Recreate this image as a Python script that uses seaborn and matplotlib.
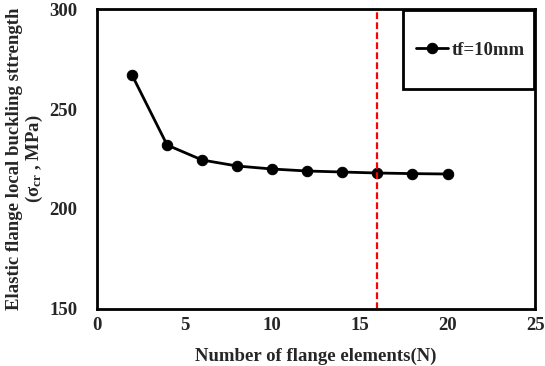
import matplotlib
matplotlib.use("Agg")
import matplotlib.pyplot as plt
from matplotlib.patches import Rectangle
import seaborn as sns
import pandas as pd

# data
n_elements = [2, 4, 6, 8, 10, 12, 14, 16, 18, 20]
strength = [267.0, 232.0, 224.5, 221.5, 220.0, 219.0, 218.5, 218.0, 217.7, 217.5]
series_label = "tf=10mm"
x_ticks = [0, 5, 10, 15, 20, 25]
y_ticks = [150, 200, 250, 300]
red_line_x = 16

sns.set_style("white")
plt.rcParams['font.family'] = ['Liberation Serif', 'DejaVu Serif']
plt.rcParams['font.weight'] = 'bold'
plt.rcParams['mathtext.fontset'] = 'custom'
plt.rcParams['mathtext.rm'] = 'Liberation Serif:bold'
plt.rcParams['mathtext.it'] = 'Liberation Serif:bold'

df = pd.DataFrame({'N': n_elements, 'sigma': strength})

fig = plt.figure(figsize=(5.45, 3.66), dpi=100)
ax = fig.add_axes([0.178, 0.156, 0.804, 0.819])

sns.lineplot(data=df, x='N', y='sigma', ax=ax, color='black', marker='o',
             markersize=7.5, linewidth=2, markeredgecolor='black', label=series_label)
ax.axvline(red_line_x, color='red', linestyle='--', linewidth=1.6, dashes=(3, 1.5))

fs = 13.5
ax.set_xlim(0, 25)
ax.set_ylim(150, 300)
ax.set_xticks(x_ticks)
ax.set_yticks(y_ticks)
ax.tick_params(direction='in', length=5, width=1.5, labelsize=fs)
ax.tick_params(axis='y', pad=14)
ax.tick_params(axis='x', pad=6)
for s in ax.spines.values():
    s.set_linewidth(2)
    s.set_color('black')

ax.set_xlabel("Number of flange elements(N)", fontsize=fs, fontweight='bold', labelpad=10)
ax.set_ylabel("Elastic flange local buckling sttrength\n($\\sigma_{cr}$ , MPa)",
              fontsize=fs, fontweight='bold', labelpad=3, linespacing=1.05)

# legend box: drawn as a plain rectangle, entry placed inside it
ax.add_patch(Rectangle((0.699, 0.733), 0.298, 0.264, transform=ax.transAxes,
                       fill=True, facecolor='white', edgecolor='black', linewidth=2,
                       zorder=5))
leg = ax.legend(loc='center left', bbox_to_anchor=(0.728, 0.863), frameon=False,
                borderpad=0, handlelength=1.7, handletextpad=0.2,
                borderaxespad=0.0, prop={'weight': 'bold', 'size': fs})
leg.set_zorder(6)

fig.savefig("out.png", dpi=100)
